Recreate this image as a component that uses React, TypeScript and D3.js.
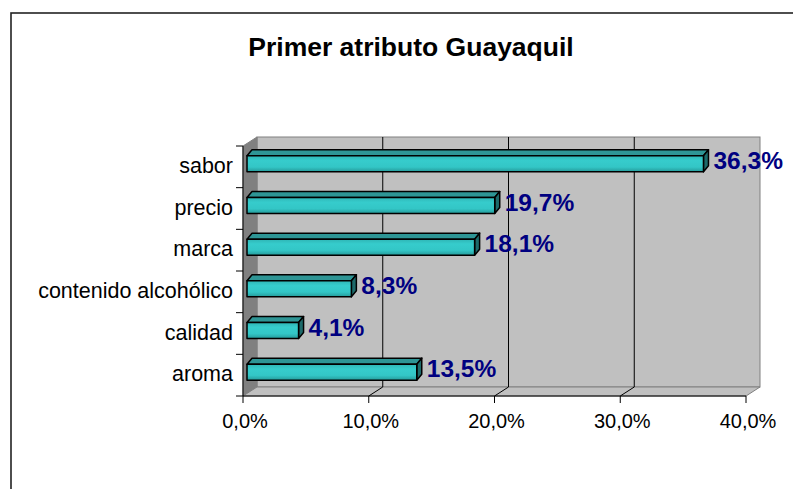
import React from "react";
import * as d3 from "d3";

const title = "Primer atributo Guayaquil";
const categories = ["sabor", "precio", "marca", "contenido alcohólico", "calidad", "aroma"];
const values = [36.3, 19.7, 18.1, 8.3, 4.1, 13.5];
const xTicks = [0, 10, 20, 30, 40];

const fmt = (v: number) => `${v.toFixed(1).replace(".", ",")}%`;

const App = () => {
  const width = 793;
  const height = 489;
  // front plane of the 3D box
  const left = 243;
  const right = 746;
  const top = 146;
  const bottom = 396;
  // depth of the box (back wall offset)
  const dx = 14;
  const dy = -9;
  // bar placement inside the depth
  const barOff = { x: 4, y: -3 };
  const barDepth = { x: 5, y: -6 };
  const barH = 16;

  const xScale = d3.scaleLinear().domain([0, 40]).range([left, right]);
  const yScale = d3.scaleBand<string>().domain(categories).range([top, bottom]);

  const font = "Arial, 'Liberation Sans', sans-serif";

  const poly = (pts: [number, number][]) => pts.map((p) => p.join(",")).join(" ");

  return (
    <svg
      width={width}
      height={height}
      style={{ position: "absolute", left: 0, top: 0, background: "#fff" }}
    >
      <defs>
        <linearGradient id="barFront" x1="0" y1="0" x2="0" y2="1">
          <stop offset="0%" stopColor="#2fb5b5" />
          <stop offset="30%" stopColor="#36cccc" />
          <stop offset="70%" stopColor="#33c6c6" />
          <stop offset="100%" stopColor="#259a9a" />
        </linearGradient>
      </defs>

      {/* outer frame */}
      <rect x={11} y={13} width={800} height={500} fill="#fff" stroke="#222" strokeWidth={1.6} />

      {/* title */}
      <text
        x={411}
        y={56}
        textAnchor="middle"
        fontFamily={font}
        fontWeight="bold"
        fontSize={26.5}
      >
        {title}
      </text>

      {/* back wall */}
      <rect
        x={left + dx}
        y={top + dy}
        width={right - left}
        height={bottom - top}
        fill="#c0c0c0"
        stroke="#808080"
      />
      {/* side wall */}
      <polygon
        points={poly([
          [left, top],
          [left + dx, top + dy],
          [left + dx, bottom + dy],
          [left, bottom],
        ])}
        fill="#808080"
        stroke="#808080"
      />
      {/* floor */}
      <polygon
        points={poly([
          [left, bottom],
          [right, bottom],
          [right + dx, bottom + dy],
          [left + dx, bottom + dy],
        ])}
        fill="#c0c0c0"
        stroke="#808080"
      />

      {/* gridlines */}
      {xTicks.slice(1, -1).map((t) => (
        <g key={t}>
          <line
            x1={xScale(t) + dx}
            x2={xScale(t) + dx}
            y1={top + dy}
            y2={bottom + dy}
            stroke="#000"
            strokeWidth={1}
          />
          <line
            x1={xScale(t)}
            x2={xScale(t) + dx}
            y1={bottom}
            y2={bottom + dy}
            stroke="#000"
            strokeWidth={1}
          />
        </g>
      ))}

      {/* bars */}
      {categories.map((c, i) => {
        const v = values[i];
        const cy = (yScale(c) as number) + yScale.bandwidth() / 2 + barOff.y;
        const x0 = xScale(0) + barOff.x;
        const x1 = xScale(v) + barOff.x;
        const y0 = cy - barH / 2;
        const y1 = cy + barH / 2;
        return (
          <g key={c} stroke="#000" strokeWidth={1.5} strokeLinejoin="round">
            <polygon
              points={poly([
                [x0, y0],
                [x1, y0],
                [x1 + barDepth.x, y0 + barDepth.y],
                [x0 + barDepth.x, y0 + barDepth.y],
              ])}
              fill="#2e9595"
            />
            <polygon
              points={poly([
                [x1, y0],
                [x1 + barDepth.x, y0 + barDepth.y],
                [x1 + barDepth.x, y1 + barDepth.y],
                [x1, y1],
              ])}
              fill="#1d6a6a"
            />
            <rect x={x0} y={y0} width={x1 - x0} height={barH} fill="url(#barFront)" />
            <text
              x={x1 + 10}
              y={cy + 5}
              stroke="none"
              fill="#000080"
              fontFamily={font}
              fontWeight="bold"
              fontSize={24.5}
            >
              {fmt(v)}
            </text>
          </g>
        );
      })}

      {/* y axis */}
      <line x1={left} x2={left} y1={top} y2={bottom} stroke="#000" />
      {[...categories.map((c) => yScale(c) as number), bottom].map((y, i) => (
        <line key={i} x1={left - 7} x2={left} y1={y} y2={y} stroke="#000" />
      ))}
      {categories.map((c) => (
        <text
          key={c}
          x={233}
          y={(yScale(c) as number) + yScale.bandwidth() / 2 + 6}
          textAnchor="end"
          fontFamily={font}
          fontSize={21.5}
        >
          {c}
        </text>
      ))}

      {/* x axis */}
      <line x1={left} x2={right} y1={bottom} y2={bottom} stroke="#000" />
      {xTicks.map((t) => (
        <g key={t}>
          <line x1={xScale(t)} x2={xScale(t)} y1={bottom} y2={bottom + 7} stroke="#000" />
          <text
            x={xScale(t) + 2}
            y={428}
            textAnchor="middle"
            fontFamily={font}
            fontSize={20}
          >
            {fmt(t)}
          </text>
        </g>
      ))}
    </svg>
  );
};

export default App;
